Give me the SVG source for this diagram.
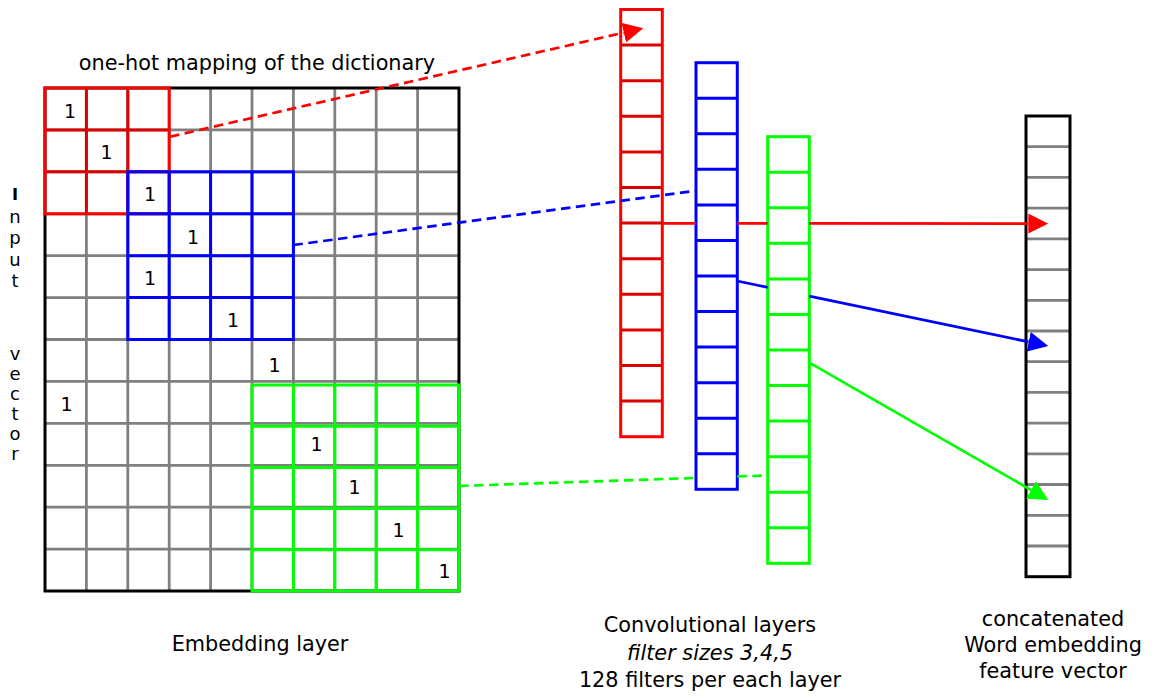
<svg xmlns="http://www.w3.org/2000/svg" width="1152" height="699" viewBox="0 0 1152 699">
  <style>
    text { font-family: "DejaVu Sans", "Liberation Sans", sans-serif; fill: #000; }
    .lbl { font-size: 20.8px; text-anchor: middle; }
    .one { font-size: 19px; text-anchor: middle; }
    .vert { font-size: 18px; text-anchor: middle; }
    .grey { stroke: #808080; stroke-width: 2.8; fill: none; }
    .frame { stroke: #000; stroke-width: 3; fill: none; }
    .red { stroke: #ff0000; stroke-width: 3; fill: none; }
    .redin { stroke: #dd0000; stroke-width: 3; fill: none; }
    .blue { stroke: #0000ff; stroke-width: 3; fill: none; }
    .green { stroke: #00ff00; stroke-width: 3; fill: none; }
    .col { fill: #fff; stroke-width: 3; }
    .dash { stroke-dasharray: 9.5 5.5; }
    .link { stroke-width: 2.7; fill: none; }
  </style>
  <defs>
    <marker id="head-red" markerUnits="userSpaceOnUse" markerWidth="20" markerHeight="20" viewBox="0 0 20 20" refX="0" refY="10" orient="auto">
      <path d="M0,0 L20,10 L0,20 z" fill="#ff0000"/>
    </marker>
    <marker id="head-blue" markerUnits="userSpaceOnUse" markerWidth="20" markerHeight="20" viewBox="0 0 20 20" refX="0" refY="10" orient="auto">
      <path d="M0,0 L20,10 L0,20 z" fill="#0000ff"/>
    </marker>
    <marker id="head-green" markerUnits="userSpaceOnUse" markerWidth="20" markerHeight="20" viewBox="0 0 20 20" refX="0" refY="10" orient="auto">
      <path d="M0,0 L20,10 L0,20 z" fill="#00ff00"/>
    </marker>
  </defs>
  <rect width="1152" height="699" fill="#fff"/>

  <!-- embedding matrix: 10 columns x 12 rows -->
  <g id="embedding-layer">
    <path class="grey" d="M86.4,88V591 M127.8,88V591 M169.2,88V591 M210.6,88V591 M252,88V591 M293.4,88V591 M334.8,88V591 M376.2,88V591 M417.6,88V591
      M45,129.9H459 M45,171.8H459 M45,213.8H459 M45,255.7H459 M45,297.6H459 M45,339.5H459 M45,381.4H459 M45,423.4H459 M45,465.3H459 M45,507.2H459 M45,549.1H459"/>
    <rect class="frame" x="45" y="88" width="414" height="503"/>
    <g class="one">
      <text x="70" y="118">1</text>
      <text x="106.5" y="158.5">1</text>
      <text x="150" y="200.5">1</text>
      <text x="193" y="244">1</text>
      <text x="150" y="285">1</text>
      <text x="233" y="326.5">1</text>
      <text x="274.5" y="372">1</text>
      <text x="66.5" y="411">1</text>
      <text x="316.5" y="451">1</text>
      <text x="354.5" y="494">1</text>
      <text x="398.5" y="536.5">1</text>
      <text x="444.5" y="577.5">1</text>
    </g>
  </g>

  <!-- filter windows over the matrix -->
  <g id="window-3">
    <path class="redin" d="M86.4,88V213.8 M127.8,88V213.8 M45,129.9H169.2 M45,171.8H169.2"/>
    <rect class="red" x="45" y="88" width="124.2" height="125.8"/>
  </g>
  <g id="window-4">
    <path class="blue" d="M169.2,171.8V339.5 M210.6,171.8V339.5 M252,171.8V339.5 M127.8,213.8H293.4 M127.8,255.7H293.4 M127.8,297.6H293.4"/>
    <rect class="blue" x="127.8" y="171.8" width="165.6" height="167.7"/>
  </g>
  <g id="window-5">
    <path class="green" d="M293.4,385V591 M334.8,385V591 M376.2,385V591 M417.6,385V591 M252,426.2H459 M252,467.4H459 M252,508.6H459 M252,549.8H459"/>
    <rect class="green" x="252" y="385" width="207" height="206"/>
  </g>

  <!-- convolution outputs, 12 cells each -->
  <g id="conv-3">
    <rect class="col" stroke="#ff0000" x="620.7" y="9.5" width="41.6" height="427.2"/>
    <path class="redin" d="M620.7,45.1h41.6 M620.7,80.7h41.6 M620.7,116.3h41.6 M620.7,151.9h41.6 M620.7,187.5h41.6 M620.7,223.1h41.6 M620.7,258.7h41.6 M620.7,294.3h41.6 M620.7,329.9h41.6 M620.7,365.5h41.6 M620.7,401.1h41.6"/>
  </g>
  <g id="conv-4">
    <rect class="col" stroke="#0000ff" x="696" y="62.7" width="41.3" height="426.6"/>
    <path class="blue" d="M696,98.25h41.3 M696,133.8h41.3 M696,169.35h41.3 M696,204.9h41.3 M696,240.45h41.3 M696,276h41.3 M696,311.55h41.3 M696,347.1h41.3 M696,382.65h41.3 M696,418.2h41.3 M696,453.75h41.3"/>
  </g>
  <g id="conv-5">
    <rect class="col" stroke="#00ff00" x="767.7" y="136.7" width="41.6" height="426.6"/>
    <path class="green" d="M767.7,172.25h41.6 M767.7,207.8h41.6 M767.7,243.35h41.6 M767.7,278.9h41.6 M767.7,314.45h41.6 M767.7,350h41.6 M767.7,385.55h41.6 M767.7,421.1h41.6 M767.7,456.65h41.6 M767.7,492.2h41.6 M767.7,527.75h41.6"/>
  </g>

  <!-- concatenated feature vector, 15 cells -->
  <g id="feature-vector">
    <rect x="1026" y="116" width="44" height="460.7" fill="#fff"/>
    <path class="grey" d="M1026,146.7h44 M1026,177.4h44 M1026,208.1h44 M1026,238.8h44 M1026,269.6h44 M1026,300.3h44 M1026,331h44 M1026,361.7h44 M1026,392.4h44 M1026,423.1h44 M1026,453.8h44 M1026,484.5h44 M1026,515.3h44 M1026,546h44"/>
    <rect class="frame" x="1026" y="116" width="44" height="460.7"/>
  </g>

  <!-- connectors -->
  <g id="connectors">
    <path class="link dash" stroke="#ff0000" stroke-width="3" d="M170,136.7 L623.8,32.7" marker-end="url(#head-red)"/>
    <path class="link dash" stroke="#0000ff" stroke-width="3" d="M293.4,245 L696,190.7"/>
    <path class="link dash" stroke="#00ff00" stroke-width="3" d="M459,486 L696,477.9 M737.3,476.5 L767.7,475.5"/>
    <path class="link" stroke="#ff0000" d="M662.3,223.3 H696 M737.3,223.3 H767.7 M809.3,223.3 L1028.3,223.6" marker-end="url(#head-red)"/>
    <path class="link" stroke="#0000ff" d="M737.3,281 L767.7,287.4 M809.3,296.1 L1028.7,341.9" marker-end="url(#head-blue)"/>
    <path class="link" stroke="#00ff00" d="M809.3,362.7 L1031,490" marker-end="url(#head-green)"/>
  </g>

  <!-- labels -->
  <g id="labels">
    <text class="lbl" x="257" y="70">one-hot mapping of the dictionary</text>
    <text class="lbl" x="260" y="651">Embedding layer</text>
    <text class="lbl" x="710" y="632">Convolutional layers</text>
    <text class="lbl" x="710" y="659.5" font-style="italic">filter sizes 3,4,5</text>
    <text class="lbl" x="710" y="687">128 filters per each layer</text>
    <text class="lbl" x="1053" y="625.5">concatenated</text>
    <text class="lbl" x="1053" y="652">Word embedding</text>
    <text class="lbl" x="1053" y="678">feature vector</text>
    <g class="vert">
      <text x="15" y="200" font-size="16.5" font-weight="bold">I</text>
      <text x="15" y="223">n</text>
      <text x="15" y="244">p</text>
      <text x="15" y="266">u</text>
      <text x="15" y="287">t</text>
      <text x="15" y="360">v</text>
      <text x="15" y="380">e</text>
      <text x="15" y="400">c</text>
      <text x="15" y="420">t</text>
      <text x="15" y="440">o</text>
      <text x="15" y="460">r</text>
    </g>
  </g>
</svg>
